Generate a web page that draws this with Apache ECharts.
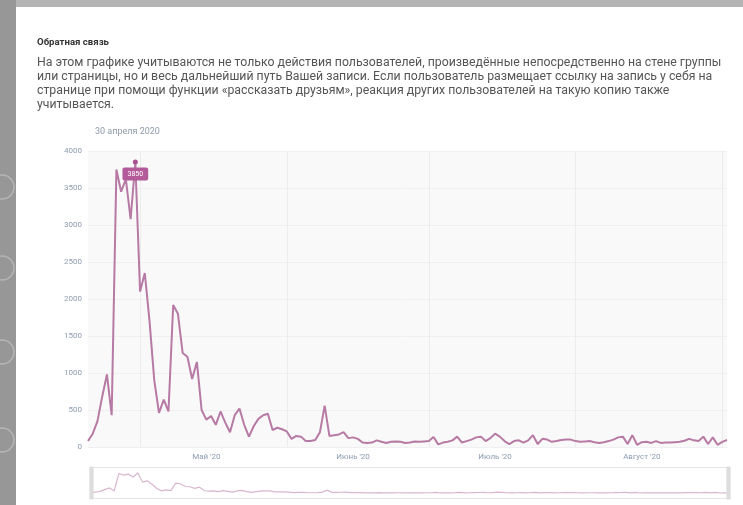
<!DOCTYPE html>
<html><head><meta charset="utf-8">
<script src="https://cdn.jsdelivr.net/npm/echarts@6/dist/echarts.min.js"></script>
<style>html,body{margin:0;padding:0;background:#fff}#c{width:743px;height:505px}</style>
</head><body><div id="c"></div>
<script>
// ---- data ----
const startDate = '2020-04-20';
const values = [
  80,180,350,680,980,430,3750,3450,3620,3080,3850,
  2100,2350,1700,900,460,640,480,1920,1800,1270,
  1220,920,1150,500,370,420,300,480,330,200,
  430,520,300,140,280,380,430,450,230,260,
  240,210,110,150,140,80,80,95,200,560,
  150,160,170,200,120,130,110,60,55,60,
  90,70,55,70,75,70,55,60,75,70,
  75,80,135,35,60,70,90,140,60,80,
  100,130,140,80,120,180,140,80,40,80,
  90,60,90,160,40,110,100,70,80,95,
  100,100,80,70,75,80,65,55,65,80,
  100,130,140,40,160,30,65,70,55,80,
  55,60,60,65,70,85,110,90,80,140,
  40,130,30,70,95
];
const yTicks = [0,500,1000,1500,2000,2500,3000,3500,4000];
const monthLabels = {5:"Май '20",6:"Июнь '20",7:"Июль '20",8:"Август '20"};
const monthGenitive = ['января','февраля','марта','апреля','мая','июня','июля','августа','сентября','октября','ноября','декабря'];
const hoverIndex = 10;
const titleText = 'Обратная связь';
const paragraph = [
  'На этом графике учитываются не только действия пользователей, произведённые непосредственно на стене группы',
  'или страницы, но и весь дальнейший путь Вашей записи. Если пользователь размещает ссылку на запись у себя на',
  'странице при помощи функции «рассказать друзьям», реакция других пользователей на такую копию также',
  'учитывается.'
];

// ---- derived categories ----
const dates = [];
{
  const d0 = new Date(startDate + 'T00:00:00');
  for (let i = 0; i < values.length; i++) {
    const d = new Date(d0.getTime()); d.setDate(d0.getDate() + i);
    dates.push(d.getFullYear() + '-' + String(d.getMonth()+1).padStart(2,'0') + '-' + String(d.getDate()).padStart(2,'0'));
  }
}
function dayOf(s){return +s.slice(8,10);}
function monOf(s){return +s.slice(5,7);}
const hd = dates[hoverIndex];
const hoverLabel = dayOf(hd) + ' ' + monthGenitive[monOf(hd)-1] + ' ' + hd.slice(0,4);

// ---- font fitting ----
const FAM = 'Roboto, "Open Sans", sans-serif';
const cv = document.createElement('canvas').getContext('2d');
function fit(text, w, weight){
  cv.font = (weight||'normal') + ' 100px ' + FAM;
  return 100 * w / cv.measureText(text).width;
}
const pSize = fit(paragraph[0], 685, 'normal');
const tSize = fit(titleText, 72, 'bold');

const graphics = [
  {type:'rect', left:0, top:0, shape:{width:743, height:7}, style:{fill:'#b4b4b4'}, silent:true},
  {type:'rect', left:0, top:0, shape:{width:16, height:505}, style:{fill:'#979797'}, silent:true},
  {type:'circle', shape:{cx:2, cy:187, r:12}, style:{fill:'none', stroke:'#b5b5b5', lineWidth:1.5}, silent:true},
  {type:'circle', shape:{cx:2, cy:268, r:12}, style:{fill:'none', stroke:'#b5b5b5', lineWidth:1.5}, silent:true},
  {type:'circle', shape:{cx:2, cy:352, r:12}, style:{fill:'none', stroke:'#b5b5b5', lineWidth:1.5}, silent:true},
  {type:'circle', shape:{cx:2, cy:440, r:12}, style:{fill:'none', stroke:'#b5b5b5', lineWidth:1.5}, silent:true},
  {type:'text', left:37, top:38, style:{text:titleText, font:'bold ' + tSize.toFixed(2) + 'px ' + FAM, fill:'#333333'}},
  {type:'text', left:95, top:127, style:{text:hoverLabel, font:'9px ' + FAM, fill:'#8f9aa8'}}
];
paragraph.forEach((line, k) => {
  graphics.push({type:'text', left:37, top:57 + k*14, style:{text:line, font:pSize.toFixed(2) + 'px ' + FAM, fill:'#555555'}});
});

const chart = echarts.init(document.getElementById('c'), null, {renderer:'canvas'});
chart.setOption({
  animation:false,
  backgroundColor:'#ffffff',
  graphic: graphics,
  grid:{left:88, right:16, top:151, bottom:58, show:true, backgroundColor:'#f9f9fa', borderWidth:0},
  xAxis:{
    type:'category', data:dates, boundaryGap:false,
    axisLine:{show:false}, axisTick:{show:false},
    axisLabel:{
      interval:(i, v) => dayOf(v) === 15,
      formatter:(v) => monthLabels[monOf(v)] || '',
      color:'#8d9bb0', fontSize:8, fontFamily:FAM, margin:6
    },
    splitLine:{show:true, interval:(i, v) => dayOf(v) === 1, lineStyle:{color:'#ececec', width:1}}
  },
  yAxis:{
    type:'value', min:yTicks[0], max:yTicks[yTicks.length-1], interval:yTicks[1]-yTicks[0],
    axisLine:{show:false}, axisTick:{show:false},
    axisLabel:{color:'#8d9bb0', fontSize:8, fontFamily:FAM, margin:6, formatter:(v)=>String(v)},
    splitLine:{lineStyle:{color:'#f0f0f2', width:1}}
  },
  dataZoom:[{
    type:'slider', xAxisIndex:0, start:0, end:100,
    left:88, right:16, top:467, height:32,
    showDetail:false, brushSelect:false, moveHandleSize:0,
    borderColor:'#e6e6e6', backgroundColor:'#ffffff',
    fillerColor:'rgba(0,0,0,0)',
    handleIcon:'path://M0,0 L1,0 L1,10 L0,10 Z', handleSize:'100%',
    handleStyle:{color:'#dddddd', borderColor:'#dddddd'},
    dataBackground:{lineStyle:{color:'#d9b6cd', width:1.2}, areaStyle:{opacity:0}},
    selectedDataBackground:{lineStyle:{color:'#d9b6cd', width:1.2}, areaStyle:{opacity:0}}
  }],
  series:[{
    type:'line', data:values, showSymbol:false,
    lineStyle:{color:'#b77aa4', width:2},
    itemStyle:{color:'#b77aa4'},
    markPoint:{
      symbol:'circle', symbolSize:5,
      itemStyle:{color:'#a9518f'},
      label:{show:true, position:'bottom', distance:3, formatter:(p)=>String(p.value),
        backgroundColor:'#b35c99', color:'#fff', fontSize:7, padding:[3,5], borderRadius:2, fontFamily:FAM},
      data:[{coord:[dates[hoverIndex], values[hoverIndex]], value:values[hoverIndex]}]
    }
  }]
});
</script>
</body></html>
